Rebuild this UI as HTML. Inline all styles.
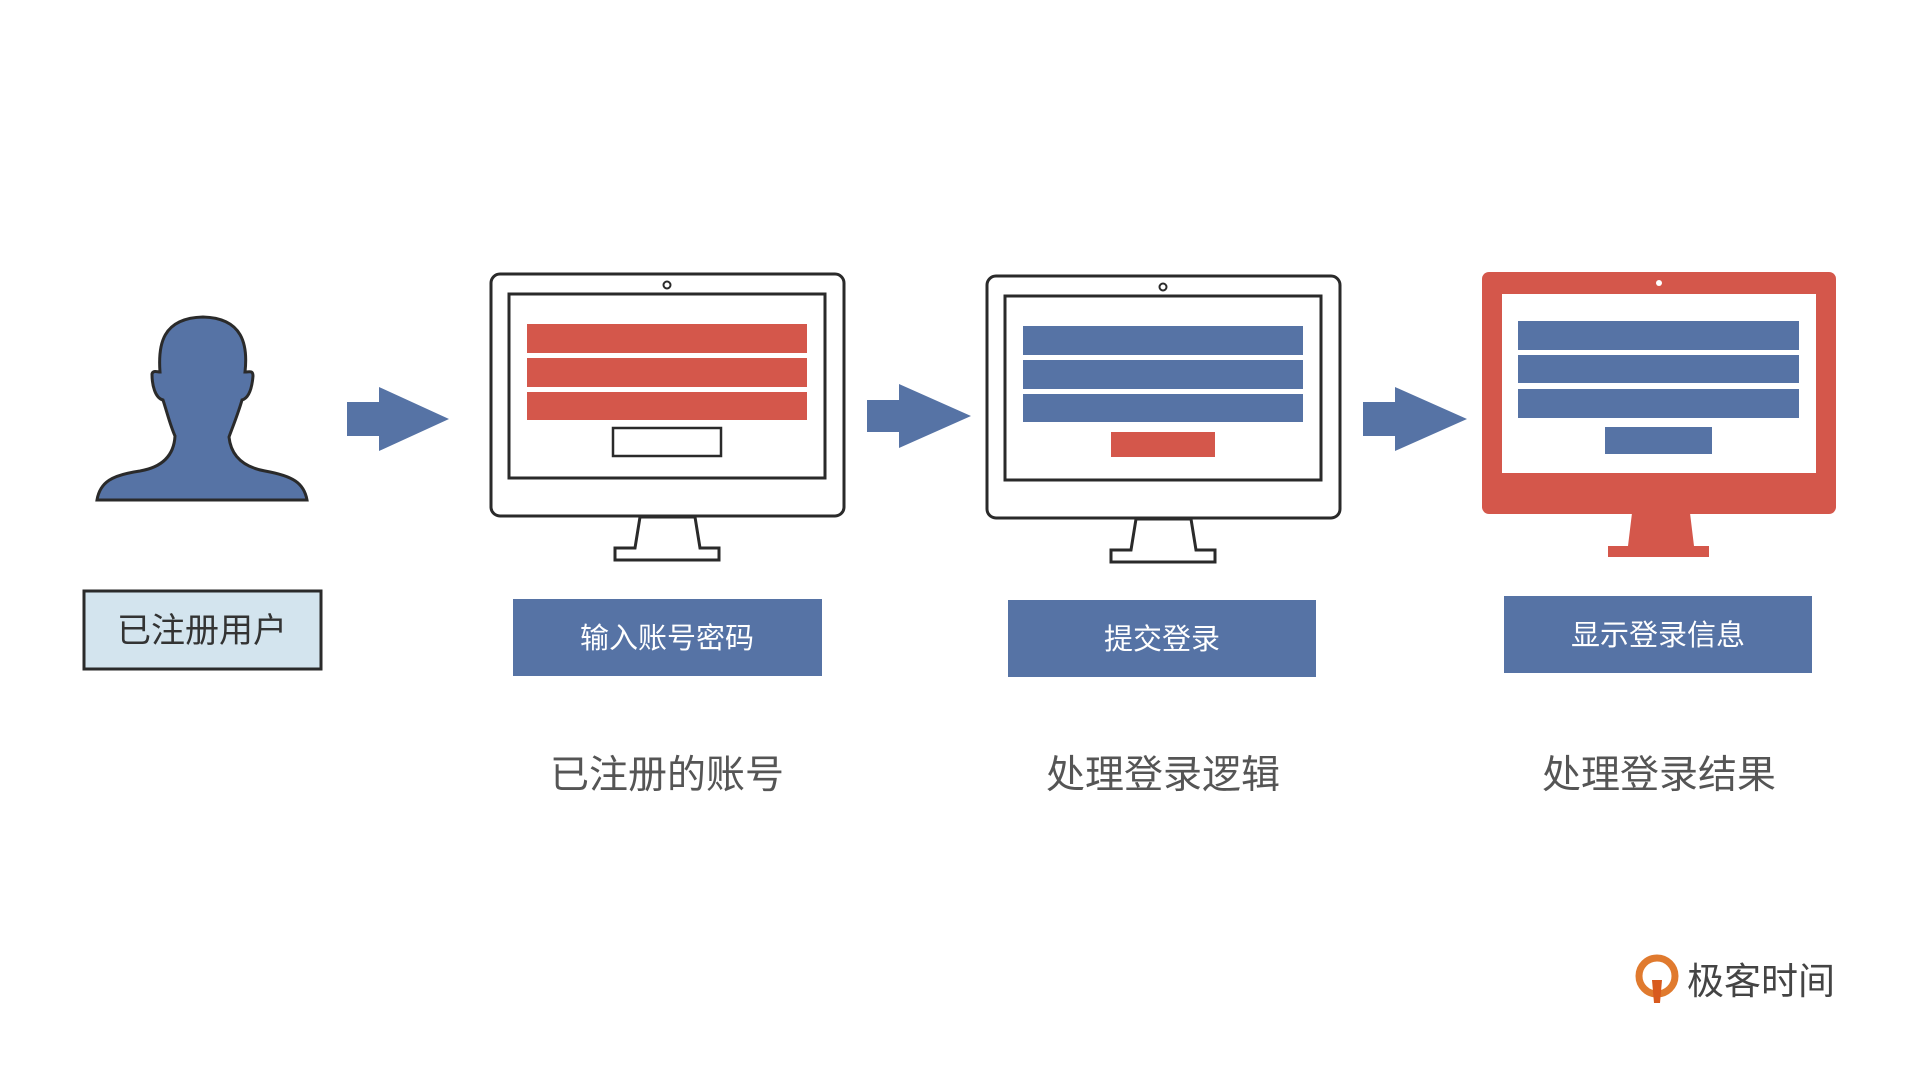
<!DOCTYPE html>
<html><head><meta charset="utf-8"><style>
html,body{margin:0;padding:0;background:#fff;}
svg{display:block;}
text{font-family:"Liberation Sans","Noto Sans CJK SC",sans-serif;}
</style></head><body>
<svg width="1920" height="1080" viewBox="0 0 1920 1080" xmlns="http://www.w3.org/2000/svg">
<defs>
<g id="stand">
  <path d="M0 0 L55 0 L60 32 L79 32 L79 44 L-25 44 L-25 32 L-5 32 Z" />
</g>
</defs>

<!-- person -->
<path d="M97 500 C100 482,112 475,140 471 C163 467,174 455,175 436 C170 425,167 412,163 400 C155 398,152 385,152 374 C153 370,157 372,160 372 C158 345,162 318,203 317 C243 318,248 345,245 372 C249 372,253 370,253 376 C252 388,249 398,242 400 C238 414,233 426,229 437 C231 456,243 467,265 471 C293 476,304 483,307 500 Z" fill="#5673a5" stroke="#2a2a2a" stroke-width="3"/>

<!-- arrows -->
<path d="M347 402 L379 402 L379 387 L449 419 L379 451 L379 436 L347 436 Z" fill="#5673a5"/>
<path d="M867 400 L899 400 L899 384 L971 416 L899 448 L899 432 L867 432 Z" fill="#5673a5"/>
<path d="M1363 402 L1395 402 L1395 387 L1467 419 L1395 451 L1395 436 L1363 436 Z" fill="#5673a5"/>

<!-- monitor 1 -->
<g>
<rect x="491" y="274" width="353" height="242" rx="9" fill="#fff" stroke="#2a2a2a" stroke-width="3"/>
<rect x="509" y="294" width="316" height="184" fill="#fff" stroke="#2a2a2a" stroke-width="3"/>
<circle cx="667" cy="285" r="3.5" fill="#fff" stroke="#2a2a2a" stroke-width="2"/>
<rect x="527" y="324" width="280" height="29" fill="#d4574b"/>
<rect x="527" y="358" width="280" height="29" fill="#d4574b"/>
<rect x="527" y="392" width="280" height="28" fill="#d4574b"/>
<rect x="613" y="428" width="108" height="28" fill="#fff" stroke="#2a2a2a" stroke-width="2.5"/>
<path d="M640 517 L695 517 L700 548 L719 548 L719 560 L615 560 L615 548 L635 548 Z" fill="#fff" stroke="#2a2a2a" stroke-width="3"/>
</g>

<!-- monitor 2 -->
<g>
<rect x="987" y="276" width="353" height="242" rx="9" fill="#fff" stroke="#2a2a2a" stroke-width="3"/>
<rect x="1005" y="296" width="316" height="184" fill="#fff" stroke="#2a2a2a" stroke-width="3"/>
<circle cx="1163" cy="287" r="3.5" fill="#fff" stroke="#2a2a2a" stroke-width="2"/>
<rect x="1023" y="326" width="280" height="29" fill="#5673a5"/>
<rect x="1023" y="360" width="280" height="29" fill="#5673a5"/>
<rect x="1023" y="394" width="280" height="28" fill="#5673a5"/>
<rect x="1111" y="432" width="104" height="25" fill="#d4574b"/>
<path d="M1136 519 L1191 519 L1196 550 L1215 550 L1215 562 L1111 562 L1111 550 L1131 550 Z" fill="#fff" stroke="#2a2a2a" stroke-width="3"/>
</g>

<!-- monitor 3 -->
<g>
<rect x="1482" y="272" width="354" height="242" rx="7" fill="#d4574b"/>
<rect x="1502" y="294" width="314" height="179" fill="#fff"/>
<circle cx="1659" cy="283" r="3" fill="#fff"/>
<rect x="1518" y="321" width="281" height="29" fill="#5673a5"/>
<rect x="1518" y="355" width="281" height="28" fill="#5673a5"/>
<rect x="1518" y="389" width="281" height="29" fill="#5673a5"/>
<rect x="1605" y="427" width="107" height="27" fill="#5673a5"/>
<path d="M1632 513 L1690 513 L1694 546 L1709 546 L1709 557 L1608 557 L1608 546 L1628 546 Z" fill="#d4574b"/>
</g>

<!-- user label -->
<rect x="84" y="591" width="237" height="78" fill="#d3e4ee" stroke="#2a2a2a" stroke-width="3"/>
<text x="202" y="642" font-size="34" fill="#333" text-anchor="middle">已注册用户</text>

<!-- blue boxes -->
<rect x="513" y="599" width="309" height="77" fill="#5673a5"/>
<text x="667" y="648" font-size="29" fill="#fff" text-anchor="middle">输入账号密码</text>
<rect x="1008" y="600" width="308" height="77" fill="#5673a5"/>
<text x="1162" y="649" font-size="29" fill="#fff" text-anchor="middle">提交登录</text>
<rect x="1504" y="596" width="308" height="77" fill="#5673a5"/>
<text x="1658" y="645" font-size="29" fill="#fff" text-anchor="middle">显示登录信息</text>

<!-- captions -->
<text x="667" y="788" font-size="39" fill="#555" text-anchor="middle">已注册的账号</text>
<text x="1163" y="788" font-size="39" fill="#555" text-anchor="middle">处理登录逻辑</text>
<text x="1659" y="788" font-size="39" fill="#555" text-anchor="middle">处理登录结果</text>

<!-- logo -->
<circle cx="1657" cy="976" r="18" fill="none" stroke="#e07a2e" stroke-width="7"/>
<path d="M1652 980 L1662 980 L1660 1003 L1654 1003 Z" fill="#d85a1e"/>
<text x="1687" y="994" font-size="37" fill="#444">极客时间</text>
</svg>
</body></html>
